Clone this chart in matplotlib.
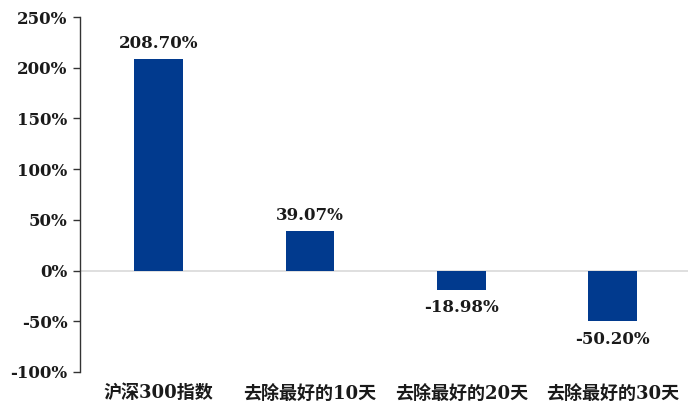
import matplotlib
matplotlib.use("Agg")
import matplotlib.pyplot as plt
from matplotlib.ticker import FuncFormatter

categories = ["沪深300指数", "去除最好的10天", "去除最好的20天", "去除最好的30天"]
values = [208.70, 39.07, -18.98, -50.20]
yticks = [-100, -50, 0, 50, 100, 150, 200, 250]

fam = ["DejaVu Serif", "Noto Sans CJK SC"]
color = "#013A8E"

fig = plt.figure(figsize=(7, 4.2), dpi=100)
ax = fig.add_axes([0.1143, 0.1143, 0.869, 0.8452])

x = list(range(len(categories)))
ax.bar(x, values, width=0.32, color=color, zorder=3)
ax.axhline(0, color="#d9d9d9", lw=1.2, zorder=2)

for xi, v in zip(x, values):
    if v >= 0:
        ax.text(xi, v + 7, f"{v:.2f}%", ha="center", va="bottom",
                fontsize=12, fontweight="bold", family=fam, color="#1a1a1a")
    else:
        ax.text(xi, v - 9, f"{v:.2f}%", ha="center", va="top",
                fontsize=12, fontweight="bold", family=fam, color="#1a1a1a")

ax.set_xlim(-0.52, 3.5)
ax.set_ylim(-100, 250)
ax.set_yticks(yticks)
ax.yaxis.set_major_formatter(FuncFormatter(lambda v, p: f"{int(v)}%"))
for lab in ax.get_yticklabels():
    lab.set_family(fam)
    lab.set_fontweight("bold")
    lab.set_fontsize(12)
    lab.set_color("#1a1a1a")

ax.set_xticks(x)
ax.set_xticklabels(categories)
for lab in ax.get_xticklabels():
    lab.set_family(fam)
    lab.set_fontweight("bold")
    lab.set_fontsize(13)
    lab.set_color("#1a1a1a")

ax.tick_params(axis="x", length=0, pad=9)
ax.tick_params(axis="y", length=5, width=1, color="#333333", pad=4)
for s in ["top", "right", "bottom"]:
    ax.spines[s].set_visible(False)
ax.spines["left"].set_color("#333333")
ax.spines["left"].set_linewidth(1)

fig.savefig("out.png", dpi=100, facecolor="white")
